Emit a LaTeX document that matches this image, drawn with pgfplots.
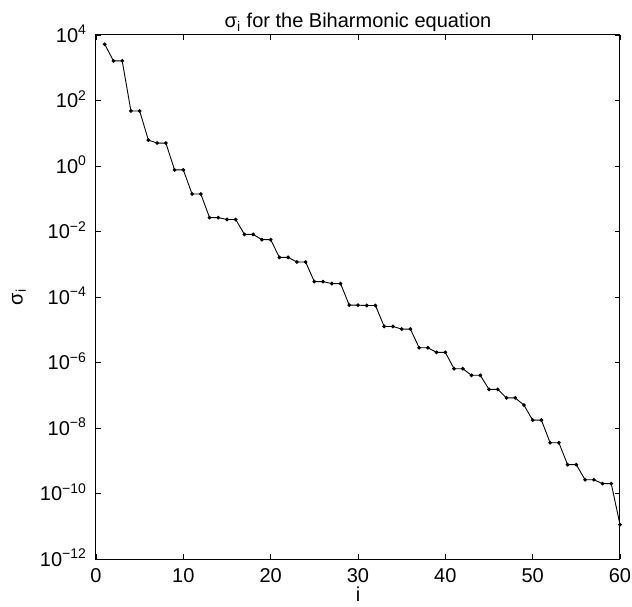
\documentclass[border=0pt]{standalone}
\usepackage{fontspec}
\setmainfont{Liberation Sans}
\usepackage{pgfplots}
\pgfplotsset{compat=1.18}
\begin{document}
\begin{tikzpicture}
\begin{axis}[
  scale only axis,
  width=262pt, height=262pt,
  xmin=0, xmax=60, ymin=1e-12, ymax=1e4,
  ymode=log,
  xtick={0,10,20,30,40,50,60},
  xticklabels={0,10,20,30,40,50,60},
  ytick={1e-12,1e-10,1e-8,1e-6,1e-4,1e-2,1,1e2,1e4},
  yticklabels={10\textsuperscript{−12},10\textsuperscript{−10},10\textsuperscript{−8},10\textsuperscript{−6},10\textsuperscript{−4},10\textsuperscript{−2},10\textsuperscript{0},10\textsuperscript{2},10\textsuperscript{4}},
  yminorticks=false, xminorticks=false,
  tick align=inside,
  xtick pos=both, ytick pos=both,
  major tick length=2.6pt,
  major tick style={black, line width=0.45pt},
  axis line style={line width=0.5pt},
  ticklabel style={font=\fontsize{10}{12}\selectfont},
  yticklabel style={anchor=base east, yshift=-3.6pt, xshift=-1pt},
  xticklabel style={yshift=-1pt},
  title={σ\textsubscript{i} for the Biharmonic equation},
  title style={font=\fontsize{10}{12}\selectfont, at={(0.5,1)}, anchor=base, yshift=-2.5pt},
  xlabel={i},
  ylabel={σ\textsubscript{i}},
  label style={font=\fontsize{10}{12}\selectfont},
  xlabel style={at={(0.5,0)}, anchor=base, yshift=-21pt},
  ylabel style={at={(axis description cs:0,0.5)}, anchor=center, yshift=38.5pt},
]
\addplot[black, line width=0.45pt, mark=*, mark size=0.7pt] coordinates {
(1,5.2e3) (2,1.62e3) (3,1.62e3) (4,47.9) (5,47.9) (6,6.17) (7,5.01) (8,5.01)
(9,0.759) (10,0.759) (11,0.1396) (12,0.1396) (13,0.0266) (14,0.0266)
(15,0.0232) (16,0.0232) (17,8.13e-3) (18,8.13e-3) (19,5.62e-3) (20,5.62e-3)
(21,1.62e-3) (22,1.62e-3) (23,1.175e-3) (24,1.175e-3) (25,2.95e-4) (26,2.95e-4)
(27,2.57e-4) (28,2.57e-4) (29,5.62e-5) (30,5.62e-5) (31,5.5e-5) (32,5.5e-5)
(33,1.26e-5) (34,1.26e-5) (35,1.05e-5) (36,1.05e-5) (37,2.82e-6) (38,2.82e-6)
(39,2.04e-6) (40,2.04e-6) (41,6.46e-7) (42,6.46e-7) (43,4.07e-7) (44,4.07e-7)
(45,1.51e-7) (46,1.51e-7) (47,8.32e-8) (48,8.32e-8) (49,5.01e-8) (50,1.74e-8)
(51,1.74e-8) (52,3.55e-9) (53,3.55e-9) (54,7.59e-10) (55,7.59e-10) (56,2.63e-10)
(57,2.63e-10) (58,2.0e-10) (59,2.0e-10) (60,1.12e-11)
};
\end{axis}
\pgfresetboundingbox
\path ([xshift=-48pt,yshift=-23.5pt]current axis.south west) rectangle ([xshift=6pt,yshift=17.5pt]current axis.north east);
\end{tikzpicture}
\end{document}
